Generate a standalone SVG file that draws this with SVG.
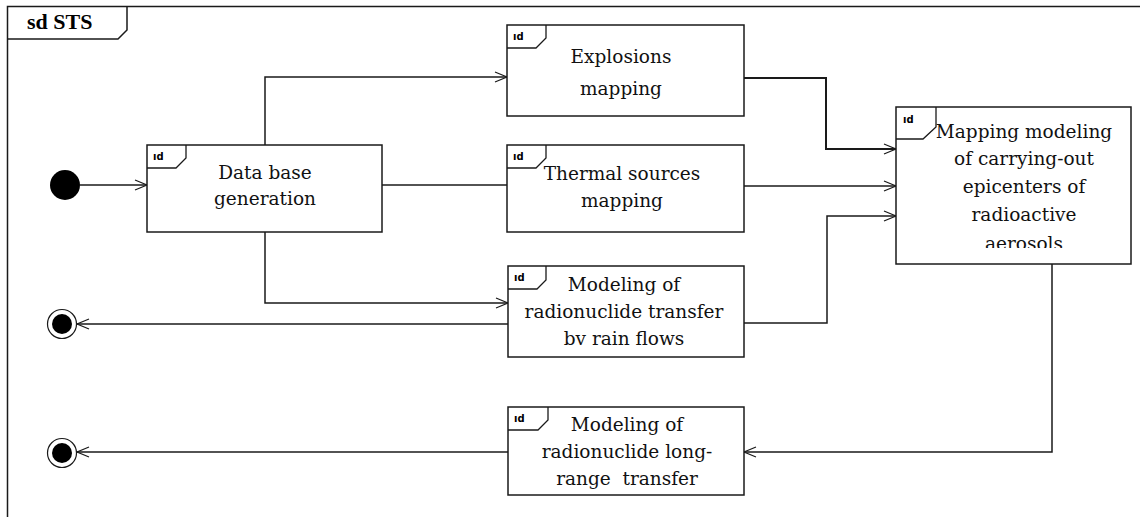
<svg xmlns="http://www.w3.org/2000/svg" width="1140" height="517" viewBox="0 0 1140 517">
  <style>
    .box { fill: #ffffff; stroke: #1a1a1a; stroke-width: 1.5; }
    .tab { fill: none; stroke: #1a1a1a; stroke-width: 1.3; }
    .tabtxt { font-family: "DejaVu Sans", sans-serif; font-weight: bold; font-size: 10px; fill: #000; }
    .lbl { font-family: "DejaVu Serif", "Liberation Serif", serif; font-size: 18.5px; fill: #111; text-anchor: middle; white-space: pre; }
    .title { font-family: "Liberation Serif", serif; font-weight: bold; font-size: 22px; fill: #000; }
    .conn { fill: none; stroke: #1a1a1a; stroke-width: 1.5; }
  </style>
  <defs>
    <marker id="open" markerWidth="16" markerHeight="14" refX="13" refY="7" orient="auto" markerUnits="userSpaceOnUse">
      <path d="M1,2 L13,7 L1,12" fill="none" stroke="#1a1a1a" stroke-width="1.2"/>
    </marker>
    <clipPath id="clipMap">
      <rect x="896" y="107" width="235" height="141"/>
    </clipPath>
  </defs>

  <rect width="1140" height="517" fill="#ffffff"/>

  <!-- frame -->
  <g id="frame">
    <path d="M7.5,517 L7.5,6.5 L1145,6.5" fill="none" stroke="#1a1a1a" stroke-width="1.5"/>
    <path d="M7.5,39 L118,39 L127,30 L127,6.5" fill="none" stroke="#1a1a1a" stroke-width="1.5"/>
    <text class="title" x="27" y="29">sd STS</text>
  </g>

  <!-- connectors -->
  <g id="connectors">
    <path class="conn" d="M80,185 L147,185" marker-end="url(#open)"/>
    <path class="conn" d="M265,145 L265,77 L507,77" marker-end="url(#open)"/>
    <path class="conn" d="M382,185 L507,185"/>
    <path class="conn" d="M265,232 L265,303 L508,303" marker-end="url(#open)"/>
    <path class="conn" d="M744,78 L826,78 L826,149 L896,149" style="stroke-width:2" marker-end="url(#open)"/>
    <path class="conn" d="M744,186 L896,186" marker-end="url(#open)"/>
    <path class="conn" d="M744,323 L827,323 L827,216 L896,216" marker-end="url(#open)"/>
    <path class="conn" d="M508,324 L77,324" marker-end="url(#open)"/>
    <path class="conn" d="M1052,264 L1052,452 L744,452" marker-end="url(#open)"/>
    <path class="conn" d="M508,452 L77,452" marker-end="url(#open)"/>
  </g>

  <!-- initial node -->
  <g id="initial">
    <circle cx="65" cy="185" r="15" fill="#000"/>
  </g>

  <!-- final nodes -->
  <g id="final1">
    <circle cx="62" cy="324" r="14.5" fill="#fff" stroke="#1a1a1a" stroke-width="1.2"/>
    <circle cx="62" cy="324" r="10" fill="#000"/>
  </g>
  <g id="final2">
    <circle cx="62" cy="453" r="14.5" fill="#fff" stroke="#1a1a1a" stroke-width="1.2"/>
    <circle cx="62" cy="453" r="10" fill="#000"/>
  </g>

  <!-- Data base generation -->
  <g id="database">
    <rect class="box" x="147" y="145" width="235" height="87"/>
    <path class="tab" d="M147,168 L176,168 L186,158 L186,145"/>
    <text class="tabtxt" x="153" y="160">ıd</text>
    <text class="lbl" x="265" y="179">Data base</text>
    <text class="lbl" x="265" y="205">generation</text>
  </g>

  <!-- Explosions mapping -->
  <g id="explosions">
    <rect class="box" x="507" y="25" width="237" height="91"/>
    <path class="tab" d="M507,48 L536,48 L546,38 L546,25"/>
    <text class="tabtxt" x="513" y="40">ıd</text>
    <text class="lbl" x="621" y="63">Explosions</text>
    <text class="lbl" x="621" y="95">mapping</text>
  </g>

  <!-- Thermal sources mapping -->
  <g id="thermal">
    <rect class="box" x="507" y="145" width="237" height="87"/>
    <path class="tab" d="M507,168 L536,168 L546,158 L546,145"/>
    <text class="tabtxt" x="513" y="160">ıd</text>
    <text class="lbl" x="622" y="180">Thermal sources</text>
    <text class="lbl" x="622" y="207">mapping</text>
  </g>

  <!-- Modeling of radionuclide transfer by rain flows -->
  <g id="rainflows">
    <rect class="box" x="508" y="266" width="236" height="91"/>
    <path class="tab" d="M508,289 L537,289 L546,280 L546,266"/>
    <text class="tabtxt" x="514" y="281">ıd</text>
    <text class="lbl" x="624" y="291">Modeling of</text>
    <text class="lbl" x="624" y="318">radionuclide transfer</text>
    <text class="lbl" x="624" y="345">bv rain flows</text>
  </g>

  <!-- Mapping modeling of carrying-out epicenters -->
  <g id="mapping">
    <rect class="box" x="896" y="107" width="235" height="157"/>
    <path class="tab" d="M896,139 L923,139 L936,127 L936,107"/>
    <text class="tabtxt" x="903" y="123">ıd</text>
    <g clip-path="url(#clipMap)">
      <text class="lbl" x="1024" y="138">Mapping modeling</text>
      <text class="lbl" x="1024" y="165">of carrying-out</text>
      <text class="lbl" x="1024" y="193">epicenters of</text>
      <text class="lbl" x="1024" y="221">radioactive</text>
      <text class="lbl" x="1024" y="250">aerosols</text>
    </g>
  </g>

  <!-- Modeling of radionuclide long-range transfer -->
  <g id="longrange">
    <rect class="box" x="508" y="407" width="236" height="88"/>
    <path class="tab" d="M508,430 L538,430 L548,420 L548,407"/>
    <text class="tabtxt" x="514" y="422">ıd</text>
    <text class="lbl" x="627" y="431">Modeling of</text>
    <text class="lbl" x="627" y="458">radionuclide long-</text>
    <text class="lbl" x="627" y="485">range  transfer</text>
  </g>
</svg>
